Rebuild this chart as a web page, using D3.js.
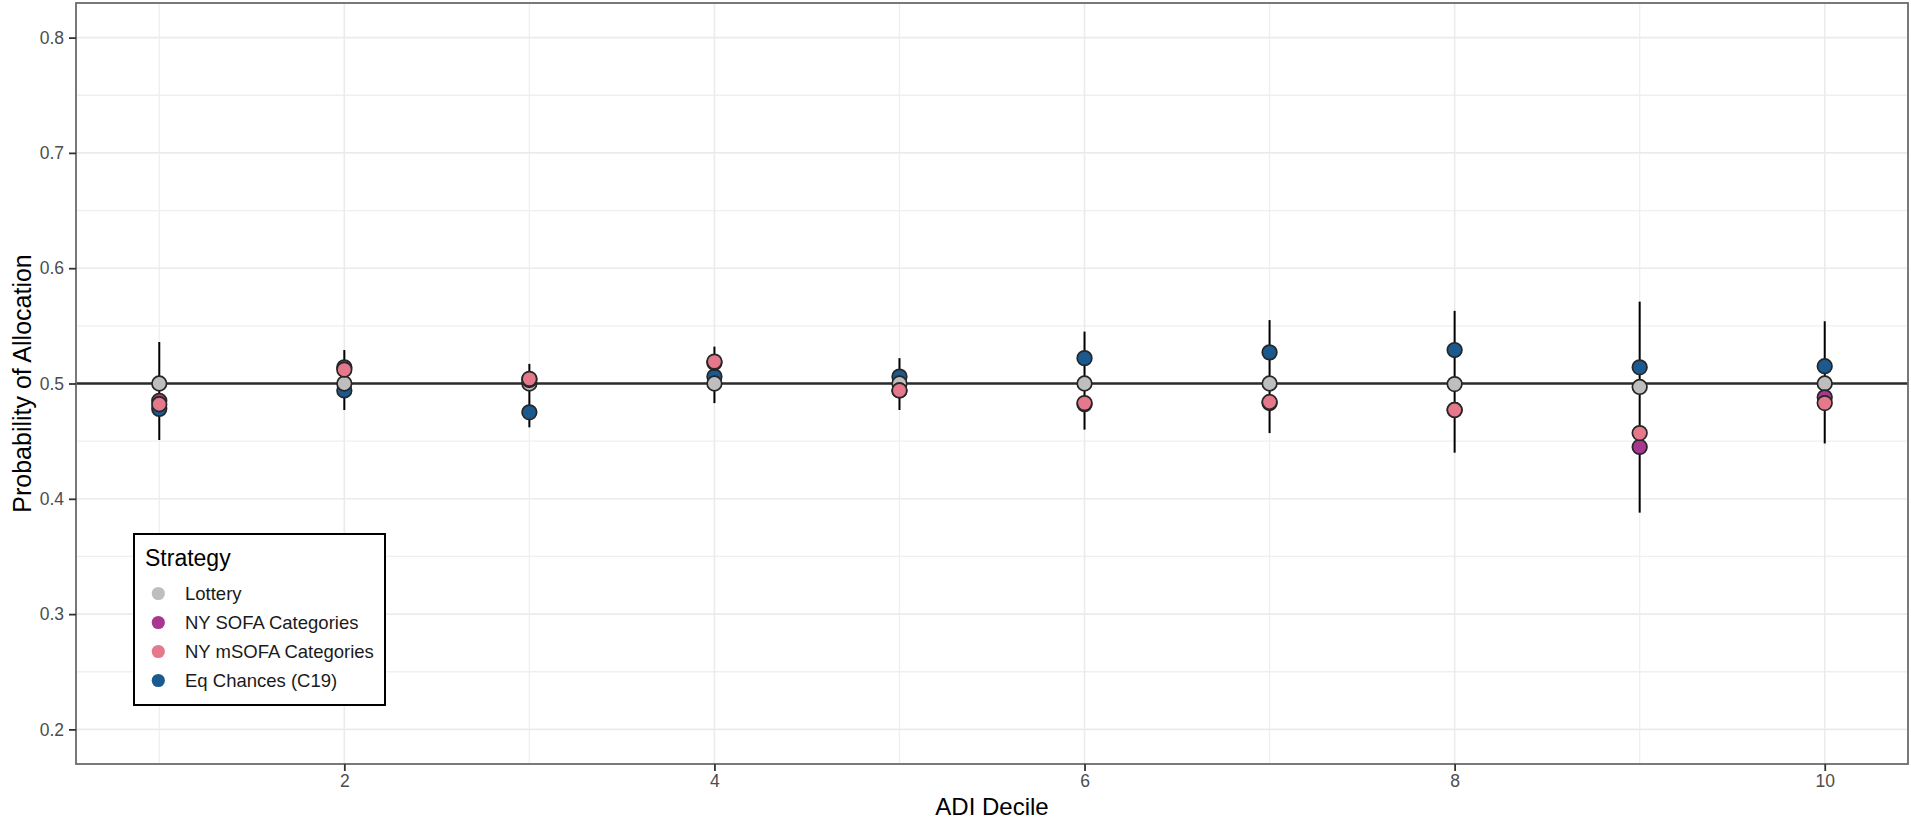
<!DOCTYPE html>
<html>
<head>
<meta charset="utf-8">
<script src="https://cdn.jsdelivr.net/npm/d3@7"></script>
<style>
  html, body { margin: 0; padding: 0; background: #ffffff; }
  svg { display: block; font-family: "Liberation Sans", Arial, Helvetica, sans-serif; }
</style>
</head>
<body>
<svg id="chart" width="1911" height="822"></svg>
<script>
// ---- data ----
const deciles = [1, 2, 3, 4, 5, 6, 7, 8, 9, 10];
const xTicks = [2, 4, 6, 8, 10];
const xMinor = [1, 3, 5, 7, 9];
const yTicks = [0.2, 0.3, 0.4, 0.5, 0.6, 0.7, 0.8];
const yMinor = [0.25, 0.35, 0.45, 0.55, 0.65, 0.75];
const seriesNames = ["Lottery", "NY SOFA Categories", "NY mSOFA Categories", "Eq Chances (C19)"];
const seriesColors = ["#bebebe", "#a8388f", "#e5788a", "#1a5a8e"];
const lottery = [0.500, 0.500, 0.500, 0.500, 0.500, 0.500, 0.500, 0.4995, 0.497, 0.500];
const nySofa  = [0.485, 0.514, 0.503, 0.518, 0.494, 0.482, 0.483, 0.477, 0.445, 0.488];
const nyMsofa = [0.482, 0.512, 0.504, 0.519, 0.494, 0.483, 0.484, 0.477, 0.457, 0.483];
const eqChances = [0.478, 0.494, 0.475, 0.506, 0.506, 0.522, 0.527, 0.529, 0.514, 0.515];
const errLow  = [0.451, 0.477, 0.462, 0.483, 0.477, 0.460, 0.457, 0.440, 0.388, 0.448];
const errHigh = [0.536, 0.529, 0.517, 0.532, 0.522, 0.545, 0.555, 0.563, 0.571, 0.554];
const refLine = 0.5;

// ---- layout ----
const svg = d3.select("#chart");
const P = { left: 76, right: 1908, top: 3, bottom: 764 };
const x = d3.scaleLinear().domain([0.55, 10.45]).range([P.left, P.right]);
const y = d3.scaleLinear().domain([0.17, 0.83]).range([P.bottom, P.top]);

svg.append("rect").attr("width", 1911).attr("height", 822).attr("fill", "#ffffff");

// grid
const grid = svg.append("g");
grid.selectAll(".ymin").data(yMinor).join("line")
  .attr("x1", P.left).attr("x2", P.right)
  .attr("y1", d => y(d)).attr("y2", d => y(d))
  .attr("stroke", "#efefef").attr("stroke-width", 1.3);
grid.selectAll(".xmin").data(xMinor).join("line")
  .attr("y1", P.top).attr("y2", P.bottom)
  .attr("x1", d => x(d)).attr("x2", d => x(d))
  .attr("stroke", "#efefef").attr("stroke-width", 1.3);
grid.selectAll(".ymaj").data(yTicks).join("line")
  .attr("x1", P.left).attr("x2", P.right)
  .attr("y1", d => y(d)).attr("y2", d => y(d))
  .attr("stroke", "#ebebeb").attr("stroke-width", 1.6);
grid.selectAll(".xmaj").data(xTicks).join("line")
  .attr("y1", P.top).attr("y2", P.bottom)
  .attr("x1", d => x(d)).attr("x2", d => x(d))
  .attr("stroke", "#ebebeb").attr("stroke-width", 1.6);

// reference line
svg.append("line")
  .attr("x1", P.left).attr("x2", P.right)
  .attr("y1", y(refLine)).attr("y2", y(refLine))
  .attr("stroke", "#2b2b2b").attr("stroke-width", 2.4);

// error bars
svg.append("g").selectAll("line").data(deciles).join("line")
  .attr("x1", d => x(d)).attr("x2", d => x(d))
  .attr("y1", (d, i) => y(errLow[i])).attr("y2", (d, i) => y(errHigh[i]))
  .attr("stroke", "#000000").attr("stroke-width", 2);

// points (draw order: Eq Chances, Lottery, SOFA, mSOFA)
const layers = [
  { vals: eqChances, color: seriesColors[3] },
  { vals: lottery, color: seriesColors[0] },
  { vals: nySofa, color: seriesColors[1] },
  { vals: nyMsofa, color: seriesColors[2] }
];
layers.forEach(L => {
  svg.append("g").selectAll("circle").data(deciles).join("circle")
    .attr("cx", d => x(d))
    .attr("cy", (d, i) => y(L.vals[i]))
    .attr("r", 7.3)
    .attr("fill", L.color)
    .attr("stroke", "#262626").attr("stroke-width", 1.7);
});

// panel border
svg.append("rect")
  .attr("x", P.left).attr("y", P.top)
  .attr("width", P.right - P.left).attr("height", P.bottom - P.top)
  .attr("fill", "none").attr("stroke", "#6b6b6b").attr("stroke-width", 1.8);

// axes
const xAxis = svg.append("g").attr("transform", `translate(0,${P.bottom})`)
  .call(d3.axisBottom(x).tickValues(xTicks).tickSize(7).tickPadding(4).tickFormat(d3.format("d")));
const yAxis = svg.append("g").attr("transform", `translate(${P.left},0)`)
  .call(d3.axisLeft(y).tickValues(yTicks).tickSize(7).tickPadding(5).tickFormat(d3.format(".1f")));
[xAxis, yAxis].forEach(a => {
  a.select(".domain").remove();
  a.selectAll(".tick line").attr("stroke", "#333333").attr("stroke-width", 1.8);
  a.selectAll(".tick text").attr("fill", "#4d4d4d").style("font-size", "17.5px")
    .style("font-family", "'Liberation Sans', Arial, sans-serif");
});

// axis titles
svg.append("text")
  .attr("x", (P.left + P.right) / 2).attr("y", 815)
  .attr("text-anchor", "middle")
  .style("font-size", "24px").attr("fill", "#000000")
  .text("ADI Decile");
svg.append("text")
  .attr("transform", `translate(31,${(P.top + P.bottom) / 2}) rotate(-90)`)
  .attr("text-anchor", "middle")
  .style("font-size", "25px").attr("fill", "#000000")
  .text("Probability of Allocation");

// legend
const lg = svg.append("g");
lg.append("rect")
  .attr("x", 134).attr("y", 534).attr("width", 251).attr("height", 171)
  .attr("fill", "#ffffff").attr("stroke", "#000000").attr("stroke-width", 2);
lg.append("text").attr("x", 145).attr("y", 566)
  .style("font-size", "23px").attr("fill", "#000000").text("Strategy");
const items = lg.selectAll(".item").data(seriesNames).join("g")
  .attr("transform", (d, i) => `translate(0,${593.5 + i * 29})`);
items.append("circle").attr("cx", 158.3).attr("cy", 0).attr("r", 6.6)
  .attr("fill", (d, i) => seriesColors[i]);
items.append("text").attr("x", 185).attr("y", 0).attr("dy", "0.36em")
  .style("font-size", "18.5px").attr("fill", "#1a1a1a").text(d => d);
</script>
</body>
</html>
